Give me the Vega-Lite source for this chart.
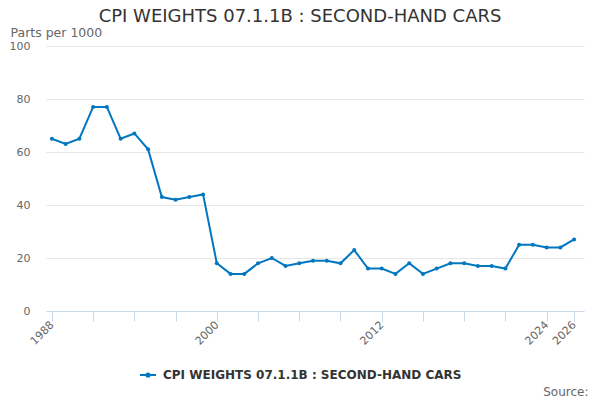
{
  "$schema": "https://vega.github.io/schema/vega-lite/v6.json",
  "width": 538,
  "height": 265,
  "autosize": "none",
  "padding": {"left": 46, "top": 46, "right": 16, "bottom": 89},
  "title": {"text": "CPI WEIGHTS 07.1.1B : SECOND-HAND CARS", "fontSize": 18, "fontWeight": "normal", "color": "#333333", "anchor": "middle", "dx": -15, "offset": 0},
  "config": {"font": "DejaVu Sans", "view": {"stroke": null}},
  "data": {"values": [
    {"year": 1988, "value": 65, "series": "CPI WEIGHTS 07.1.1B : SECOND-HAND CARS"},
    {"year": 1989, "value": 63, "series": "CPI WEIGHTS 07.1.1B : SECOND-HAND CARS"},
    {"year": 1990, "value": 65, "series": "CPI WEIGHTS 07.1.1B : SECOND-HAND CARS"},
    {"year": 1991, "value": 77, "series": "CPI WEIGHTS 07.1.1B : SECOND-HAND CARS"},
    {"year": 1992, "value": 77, "series": "CPI WEIGHTS 07.1.1B : SECOND-HAND CARS"},
    {"year": 1993, "value": 65, "series": "CPI WEIGHTS 07.1.1B : SECOND-HAND CARS"},
    {"year": 1994, "value": 67, "series": "CPI WEIGHTS 07.1.1B : SECOND-HAND CARS"},
    {"year": 1995, "value": 61, "series": "CPI WEIGHTS 07.1.1B : SECOND-HAND CARS"},
    {"year": 1996, "value": 43, "series": "CPI WEIGHTS 07.1.1B : SECOND-HAND CARS"},
    {"year": 1997, "value": 42, "series": "CPI WEIGHTS 07.1.1B : SECOND-HAND CARS"},
    {"year": 1998, "value": 43, "series": "CPI WEIGHTS 07.1.1B : SECOND-HAND CARS"},
    {"year": 1999, "value": 44, "series": "CPI WEIGHTS 07.1.1B : SECOND-HAND CARS"},
    {"year": 2000, "value": 18, "series": "CPI WEIGHTS 07.1.1B : SECOND-HAND CARS"},
    {"year": 2001, "value": 14, "series": "CPI WEIGHTS 07.1.1B : SECOND-HAND CARS"},
    {"year": 2002, "value": 14, "series": "CPI WEIGHTS 07.1.1B : SECOND-HAND CARS"},
    {"year": 2003, "value": 18, "series": "CPI WEIGHTS 07.1.1B : SECOND-HAND CARS"},
    {"year": 2004, "value": 20, "series": "CPI WEIGHTS 07.1.1B : SECOND-HAND CARS"},
    {"year": 2005, "value": 17, "series": "CPI WEIGHTS 07.1.1B : SECOND-HAND CARS"},
    {"year": 2006, "value": 18, "series": "CPI WEIGHTS 07.1.1B : SECOND-HAND CARS"},
    {"year": 2007, "value": 19, "series": "CPI WEIGHTS 07.1.1B : SECOND-HAND CARS"},
    {"year": 2008, "value": 19, "series": "CPI WEIGHTS 07.1.1B : SECOND-HAND CARS"},
    {"year": 2009, "value": 18, "series": "CPI WEIGHTS 07.1.1B : SECOND-HAND CARS"},
    {"year": 2010, "value": 23, "series": "CPI WEIGHTS 07.1.1B : SECOND-HAND CARS"},
    {"year": 2011, "value": 16, "series": "CPI WEIGHTS 07.1.1B : SECOND-HAND CARS"},
    {"year": 2012, "value": 16, "series": "CPI WEIGHTS 07.1.1B : SECOND-HAND CARS"},
    {"year": 2013, "value": 14, "series": "CPI WEIGHTS 07.1.1B : SECOND-HAND CARS"},
    {"year": 2014, "value": 18, "series": "CPI WEIGHTS 07.1.1B : SECOND-HAND CARS"},
    {"year": 2015, "value": 14, "series": "CPI WEIGHTS 07.1.1B : SECOND-HAND CARS"},
    {"year": 2016, "value": 16, "series": "CPI WEIGHTS 07.1.1B : SECOND-HAND CARS"},
    {"year": 2017, "value": 18, "series": "CPI WEIGHTS 07.1.1B : SECOND-HAND CARS"},
    {"year": 2018, "value": 18, "series": "CPI WEIGHTS 07.1.1B : SECOND-HAND CARS"},
    {"year": 2019, "value": 17, "series": "CPI WEIGHTS 07.1.1B : SECOND-HAND CARS"},
    {"year": 2020, "value": 17, "series": "CPI WEIGHTS 07.1.1B : SECOND-HAND CARS"},
    {"year": 2021, "value": 16, "series": "CPI WEIGHTS 07.1.1B : SECOND-HAND CARS"},
    {"year": 2022, "value": 25, "series": "CPI WEIGHTS 07.1.1B : SECOND-HAND CARS"},
    {"year": 2023, "value": 25, "series": "CPI WEIGHTS 07.1.1B : SECOND-HAND CARS"},
    {"year": 2024, "value": 24, "series": "CPI WEIGHTS 07.1.1B : SECOND-HAND CARS"},
    {"year": 2025, "value": 24, "series": "CPI WEIGHTS 07.1.1B : SECOND-HAND CARS"},
    {"year": 2026, "value": 27, "series": "CPI WEIGHTS 07.1.1B : SECOND-HAND CARS"}
  ]},
  "mark": {"type": "line", "strokeWidth": 2, "point": {"filled": true, "size": 16}},
  "encoding": {
    "x": {
      "field": "year", "type": "quantitative",
      "scale": {"domain": [1987.57, 2026.72], "nice": false, "zero": false},
      "axis": {
        "values": [1988, 1991, 1994, 1997, 2000, 2003, 2006, 2009, 2012, 2015, 2018, 2021, 2024, 2026],
        "format": "d",
        "labelExpr": "indexof([1988, 2000, 2012, 2024, 2026], datum.value) >= 0 ? datum.label : ''",
        "labelAngle": -45, "labelAlign": "right", "labelBaseline": "middle",
        "labelFontSize": 11, "labelColor": "#666666", "labelPadding": 2,
        "grid": false, "domainColor": "#ccd6eb", "tickColor": "#ccd6eb", "tickSize": 10,
        "labelOverlap": false, "labelFlush": false,
        "title": "Source:", "titleFontSize": 12, "titleFontWeight": "normal", "titleColor": "#666666",
        "titleAnchor": null, "titleAlign": "right", "titleBaseline": "alphabetic",
        "titleX": 542, "titleY": 84
      }
    },
    "y": {
      "field": "value", "type": "quantitative",
      "scale": {"domain": [0, 100], "nice": false},
      "axis": {
        "values": [0, 20, 40, 60, 80, 100],
        "domain": false, "ticks": false, "gridColor": "#e6e6e6",
        "labelFontSize": 11, "labelColor": "#666666", "labelPadding": 16,
        "title": "Parts per 1000", "titleAngle": 0, "titleAlign": "left", "titleBaseline": "alphabetic",
        "titleAnchor": null, "titleX": -36, "titleY": -10,
        "titleFontSize": 12.5, "titleFontWeight": "normal", "titleColor": "#666666"
      }
    },
    "color": {
      "field": "series", "type": "nominal",
      "scale": {"range": ["#0077c0"]},
      "legend": {
        "title": null, "orient": "none", "legendX": 93, "legendY": 320,
        "symbolType": "M-1,0H1M-0.2,0A0.2,0.2,0,1,0,0.2,0A0.2,0.2,0,1,0,-0.2,0",
        "symbolSize": 256, "symbolStrokeWidth": 2, "symbolFillColor": "#0077c0", "symbolStrokeColor": "#0077c0",
        "labelFontSize": 12, "labelFontWeight": "bold", "labelColor": "#333333", "labelOffset": 6, "padding": 0, "labelLimit": 500
      }
    }
  }
}
